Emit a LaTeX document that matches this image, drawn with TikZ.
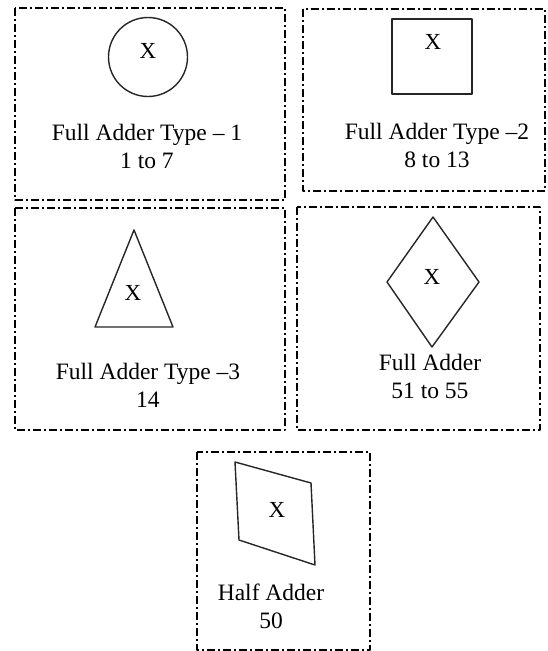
\documentclass[tikz,border=0pt]{standalone}
\usepackage{fontspec}
\setmainfont{Liberation Serif}
\begin{document}
\begin{tikzpicture}[x=1pt,y=-1pt,line join=round]
	\tikzset{
		frame/.style={draw,line width=1.2pt,dash pattern=on 8pt off 3pt on 2pt off 3pt},
		shp/.style={draw,line width=1.4pt,black!85},
		lbl/.style={font=\fontsize{23.5}{28}\selectfont,align=center,inner sep=0pt},
		xmark/.style={font=\fontsize{23}{24}\selectfont,inner sep=0pt}
	}
	\useasboundingbox (0,0) rectangle (547,651);
	% frames
	\draw[frame] (15,8) rectangle (285,200);
	\draw[frame] (303,9) rectangle (545,191);
	\draw[frame] (15,208) rectangle (285,430);
	\draw[frame] (297,207) rectangle (540,430);
	\draw[frame] (197,452) rectangle (370,650);
	% type 1
	\draw[shp] (148,57) circle(39.5);
	\node[xmark] (x1) at (148,51) {X};
	\node[lbl] (t1) at (147,146) {Full Adder Type -- 1\\1 to 7};
	% type 2
	\draw[shp] (392,19) rectangle (472,94);
	\node[xmark] (x2) at (433,42) {X};
	\node[lbl] (t2) at (437,145) {Full Adder Type --2\\8 to 13};
	% type 3
	\draw[shp] (134,230)--(173,327)--(95,327)--cycle;
	\node[xmark] (x3) at (133,293) {X};
	\node[lbl] (t3) at (148,385) {Full Adder Type --3\\14};
	% full adder
	\draw[shp] (433,217)--(479,282)--(432,347)--(387,282)--cycle;
	\node[xmark] (x4) at (432,277) {X};
	\node[lbl] (t4) at (430,376) {Full Adder\\51 to 55};
	% half adder
	\draw[shp] (235,462)--(311,483)--(315,565)--(239,540)--cycle;
	\node[xmark] (x5) at (277,510) {X};
	\node[lbl] (t5) at (271,606) {Half Adder\\50};
\end{tikzpicture}
\end{document}
